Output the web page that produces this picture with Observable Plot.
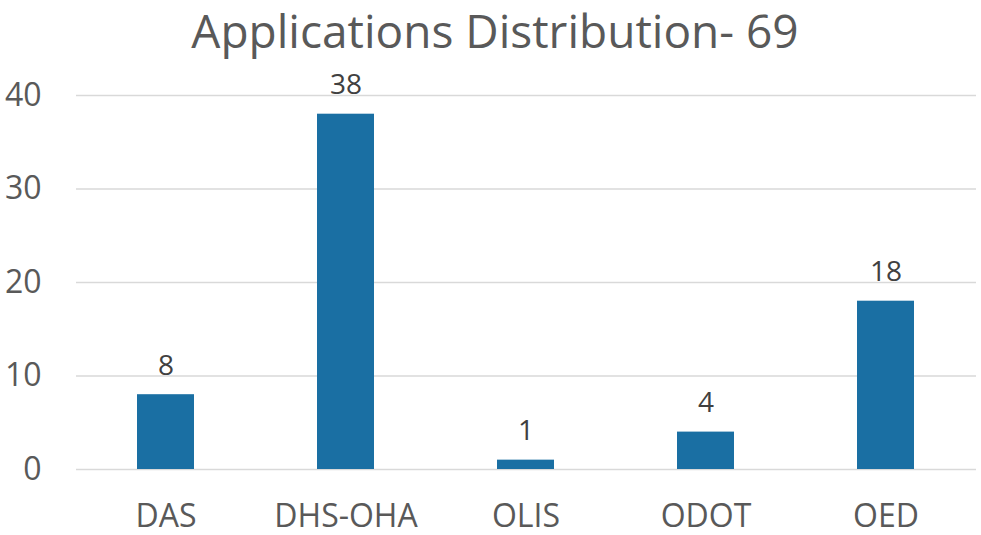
<!DOCTYPE html>
<html><head><meta charset="utf-8">
<script src="https://cdn.jsdelivr.net/npm/d3@7"></script>
<script src="https://cdn.jsdelivr.net/npm/@observablehq/plot@0.6"></script>
<style>
body{margin:0;background:#fff;font-family:"Open Sans",sans-serif;}
#title{height:60px;width:981px;box-sizing:border-box;padding-left:9px;text-align:center;font-size:46px;color:#595959;line-height:60px;white-space:nowrap;}
</style></head>
<body>
<div id="title">Applications Distribution- 69</div>
<div id="chart"></div>
<script>
const categories = ["DAS","DHS-OHA","OLIS","ODOT","OED"];
const values = [8,38,1,4,18];
const yTicks = [0,10,20,30,40];
const data = categories.map((c,i)=>({category:c,value:values[i]}));
const plot = Plot.plot({
  width:981, height:475,
  marginLeft:76, marginRight:5, marginTop:35, marginBottom:66,
  style:{fontFamily:"Open Sans, sans-serif", color:"#595959", background:"#fff"},
  x:{domain:categories, paddingInner:0.683, paddingOuter:0.3415, label:null},
  y:{domain:[0,40], label:null},
  marks:[
    Plot.gridY(yTicks,{stroke:"#d9d9d9", strokeOpacity:1, strokeWidth:1.5}),
    Plot.barY(data,{x:"category", y:"value", fill:"#1a6fa3"}),
    Plot.text(data,{x:"category", y:"value", text:d=>String(d.value), dy:-20, lineAnchor:"bottom", fontSize:28, fill:"#404040"}),
    Plot.axisX({tickSize:0, tickPadding:35, fontSize:32, fill:"#595959"}),
    Plot.axisY({ticks:yTicks, tickSize:0, tickPadding:35, fontSize:32, fill:"#595959"})
  ]
});
document.getElementById("chart").appendChild(plot);
</script>
</body></html>
